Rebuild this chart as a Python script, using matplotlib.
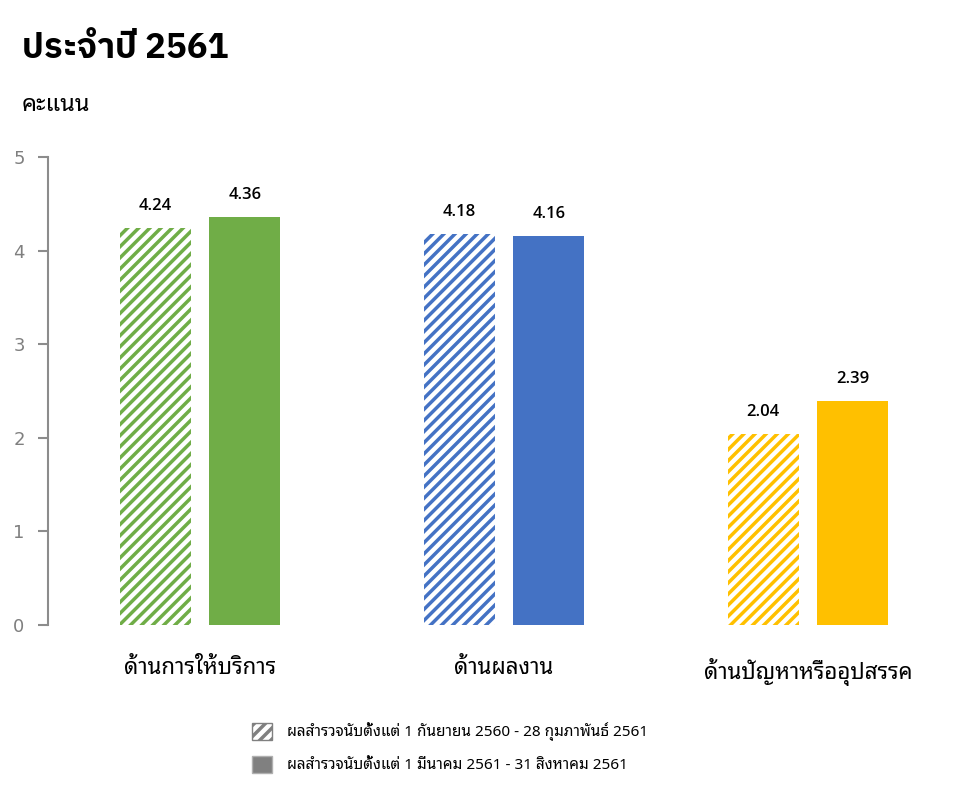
import numpy as np
import matplotlib.pyplot as plt
from matplotlib.patches import Patch

plt.rcParams['font.family'] = ['Noto Sans Thai UI', 'DejaVu Sans']
plt.rcParams['hatch.linewidth'] = 2.5

categories = ['ด้านการให้บริการ', 'ด้านผลงาน', 'ด้านปัญหาหรืออุปสรรค']
period1 = [4.24, 4.18, 2.04]
period2 = [4.36, 4.16, 2.39]
colors = ['#70AD47', '#4472C4', '#FFC000']
legend_labels = ['ผลสำรวจนับตั้งแต่ 1 กันยายน 2560 - 28 กุมภาพันธ์ 2561',
                 'ผลสำรวจนับตั้งแต่ 1 มีนาคม 2561 - 31 สิงหาคม 2561']

looped = ['Noto Sans Thai Looped', 'DejaVu Sans']
title_font = ['IBM Plex Sans Thai', 'Noto Sans Thai', 'DejaVu Sans']

fig = plt.figure(figsize=(9.8, 7.94), dpi=100)
ax = fig.add_axes([48 / 980, 1 - 625 / 794, 912 / 980, 468 / 794])

x = np.arange(len(categories))
w = 0.234
off = 0.147

ax.bar(x - off, period1, w, facecolor='white', edgecolor=colors, hatch='///', linewidth=0)
ax.bar(x + off, period2, w, color=colors, linewidth=0)

for xi, v in zip(x - off, period1):
    ax.text(xi, v + 0.15, f'{v:.2f}', ha='center', va='bottom', fontsize=12,
            fontweight='semibold', family=['Open Sans', 'DejaVu Sans'])
for xi, v in zip(x + off, period2):
    ax.text(xi, v + 0.15, f'{v:.2f}', ha='center', va='bottom', fontsize=12,
            fontweight='semibold', family=['Open Sans', 'DejaVu Sans'])

ax.set_xlim(-0.5, 2.5)
ax.set_ylim(0, 5)
ax.set_yticks(range(6))
ax.set_xticks(x)
ax.set_xticklabels(categories, fontsize=16, family=looped, fontweight='light')
ax.tick_params(axis='x', length=0, pad=24)
ax.tick_params(axis='y', colors='#8c8c8c', labelcolor='#7f7f7f', labelsize=13, length=7, width=1.5, pad=18)
for s in ['top', 'right', 'bottom']:
    ax.spines[s].set_visible(False)
ax.spines['left'].set_color('#8c8c8c')
ax.spines['left'].set_linewidth(1.5)
for lbl in ax.get_yticklabels():
    lbl.set_horizontalalignment('left')
    lbl.set_family(['DejaVu Sans'])

fig.text(22 / 980, 1 - 48 / 794, 'ประจำปี 2561', fontsize=25, fontweight='bold', va='center',
         family=title_font)
fig.text(22 / 980, 1 - 105 / 794, 'คะแนน', fontsize=17, va='center', family=looped)

handles = [Patch(facecolor='white', edgecolor='#808080', hatch='///', label=legend_labels[0]),
           Patch(facecolor='#808080', edgecolor='#b0b0b0', label=legend_labels[1])]
fig.legend(handles=handles, loc='center left', bbox_to_anchor=(238 / 980, 1 - 748 / 794),
           frameon=False, handlelength=1.3, handleheight=1.3, labelspacing=0.95,
           handletextpad=1.0, prop={'family': looped, 'size': 11})

fig.savefig('out.png', dpi=100)
